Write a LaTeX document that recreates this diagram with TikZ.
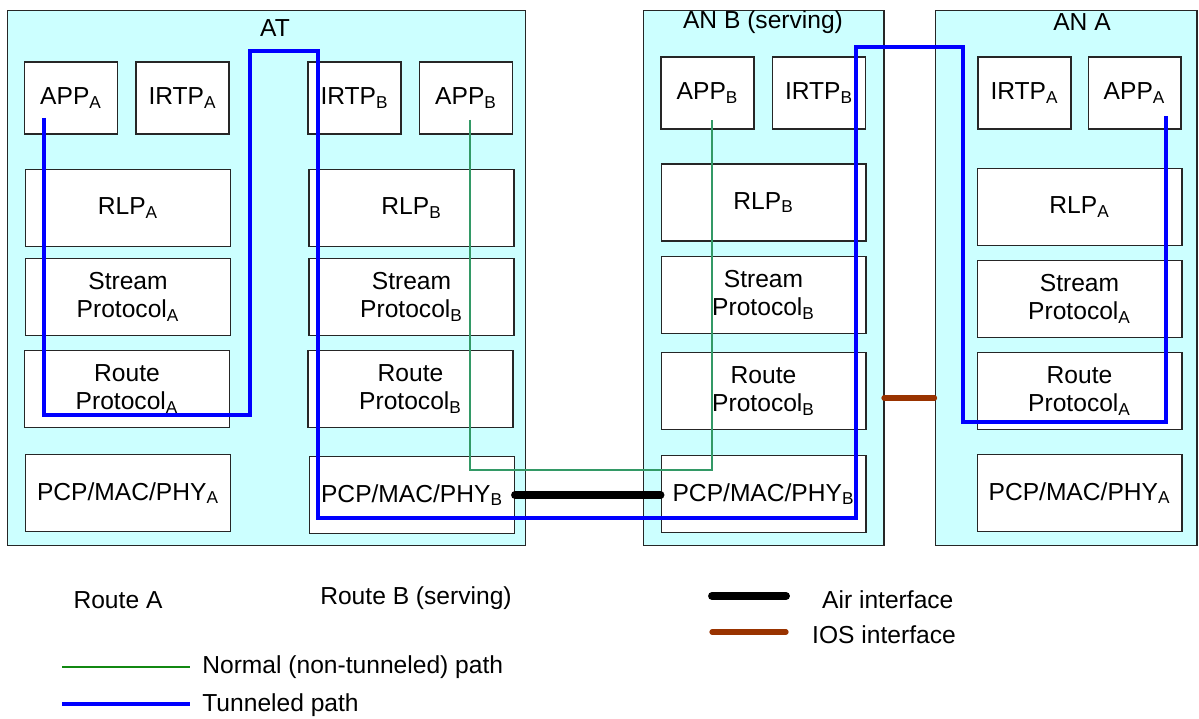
\documentclass[tikz,border=0pt]{standalone}
\usepackage{fontspec}
\setmainfont{Liberation Sans}
\usepackage{tikz}
\newcommand{\sub}[1]{\textsubscript{#1}}
\definecolor{unitfill}{HTML}{CCFFFF}
\definecolor{normalgreen}{HTML}{339966}
\definecolor{legendgreen}{HTML}{118811}
\definecolor{iosbrown}{HTML}{993300}

\begin{document}
\begin{tikzpicture}[x=0.02cm, y=-0.02cm,
  every node/.style={font=\fontsize{14}{16}\selectfont},
  unit/.style={rectangle, draw=black!85, line width=0.6pt, fill=unitfill, minimum height=10.72cm},
  smallbox/.style={rectangle, draw=black!85, line width=0.6pt, fill=white, minimum width=1.86cm, minimum height=1.44cm, align=center},
  widebox/.style={rectangle, draw=black!85, line width=0.6pt, fill=white, minimum width=4.1cm, minimum height=1.54cm, align=center},
  tunnel/.style={draw=blue, line width=2.3pt},
  normal/.style={draw=normalgreen, line width=1pt},
  air/.style={draw=black, line width=4.5pt, line cap=round},
  ios/.style={draw=iosbrown, line width=3pt, line cap=round}]
\useasboundingbox (0,0) rectangle (1199,719);

% Units
\node[unit, minimum width=10.38cm] (at) at (266.5,278) {};
\node[unit, minimum width=4.82cm] (anb) at (763.5,278) {};
\node[unit, minimum width=5.24cm] (ana) at (1066,278) {};
\node (attitle) at (275,28) {AT};
\node (anbtitle) at (763,22) {AN B (serving)};
\node (anatitle) at (1082,22) {AN A};

% AT, route A stack
\node[smallbox] (atappA) at (71,98) {APP\sub{A}};
\node[smallbox] (atirtpA) at (182.5,98) {IRTP\sub{A}};
\node[widebox] (atrlpA) at (128,208) {RLP\sub{A}};
\node[widebox] (atstreamA) at (128,297) {Stream\\Protocol\sub{A}};
\node[widebox] (atrouteA) at (127,389) {Route\\Protocol\sub{A}};
\node[widebox] (atpcpA) at (128,493) {PCP/MAC/PHY\sub{A}};

% AT, route B stack
\node[smallbox] (atirtpB) at (354.5,98) {IRTP\sub{B}};
\node[smallbox] (atappB) at (466,98) {APP\sub{B}};
\node[widebox] (atrlpB) at (411.5,208) {RLP\sub{B}};
\node[widebox] (atstreamB) at (411.5,297) {Stream\\Protocol\sub{B}};
\node[widebox] (atrouteB) at (410.5,389) {Route\\Protocol\sub{B}};
\node[widebox] (atpcpB) at (412,495) {PCP/MAC/PHY\sub{B}};

% AN B stack
\node[smallbox] (anbapp) at (707.5,93) {APP\sub{B}};
\node[smallbox] (anbirtp) at (819,93) {IRTP\sub{B}};
\node[widebox] (anbrlp) at (763.5,202.5) {RLP\sub{B}};
\node[widebox] (anbstream) at (763.5,295) {Stream\\Protocol\sub{B}};
\node[widebox] (anbroute) at (763.5,391) {Route\\Protocol\sub{B}};
\node[widebox] (anbpcp) at (763.5,494) {PCP/MAC/PHY\sub{B}};

% AN A stack
\node[smallbox] (anairtp) at (1024.5,93) {IRTP\sub{A}};
\node[smallbox] (anaapp) at (1134.5,93) {APP\sub{A}};
\node[widebox] (anarlp) at (1079.5,207) {RLP\sub{A}};
\node[widebox] (anastream) at (1079.5,299) {Stream\\Protocol\sub{A}};
\node[widebox] (anaroute) at (1079.5,391) {Route\\Protocol\sub{A}};
\node[widebox] (anapcp) at (1079.5,493) {PCP/MAC/PHY\sub{A}};

% Interfaces
\draw[air] (atpcpB.east) -- (atpcpB.east -| anbpcp.west);
\coordinate (iosB) at (884,398);
\draw[ios] (iosB) -- (iosB -| ana.west);

% Normal path
\coordinate (normA) at (470,120);
\coordinate (normB) at (712,120);
\draw[normal] (normA) -- ++(0,350) -| (normB);

% Tunneled path
\coordinate (tunA) at (44,118);
\coordinate (tunB) at (1166,116);
\draw[tunnel] (tunA) -- ++(0,297) -- ++(206,0) -- ++(0,-364) -- ++(68,0)
  -- ++(0,467) -- ++(538,0) -- ++(0,-471) -- ++(107,0) -- ++(0,375) -| (tunB);

% Legend
\node (routeA) at (118,600) {Route A};
\node (routeB) at (416,598) {Route B (serving)};
\coordinate (airL) at (712,596);
\draw[air] (airL) -- ++(74,0);
\node[anchor=west] (airtext) at (816,600) {Air interface};
\coordinate (iosL) at (712,632);
\draw[ios] (iosL) -- ++(74,0);
\node[anchor=west] (iostext) at (806,635) {IOS interface};
\coordinate (normL) at (62,667);
\draw[draw=legendgreen, line width=1.3pt] (normL) -- ++(128,0);
\node[anchor=west, inner sep=0pt] (normtext) at (202,667) {Normal (non-tunneled) path};
\coordinate (tunL) at (62,704);
\draw[tunnel] (tunL) -- ++(128,0);
\node[anchor=west, inner sep=0pt] (tuntext) at (202,705) {Tunneled path};

\end{tikzpicture}
\end{document}
